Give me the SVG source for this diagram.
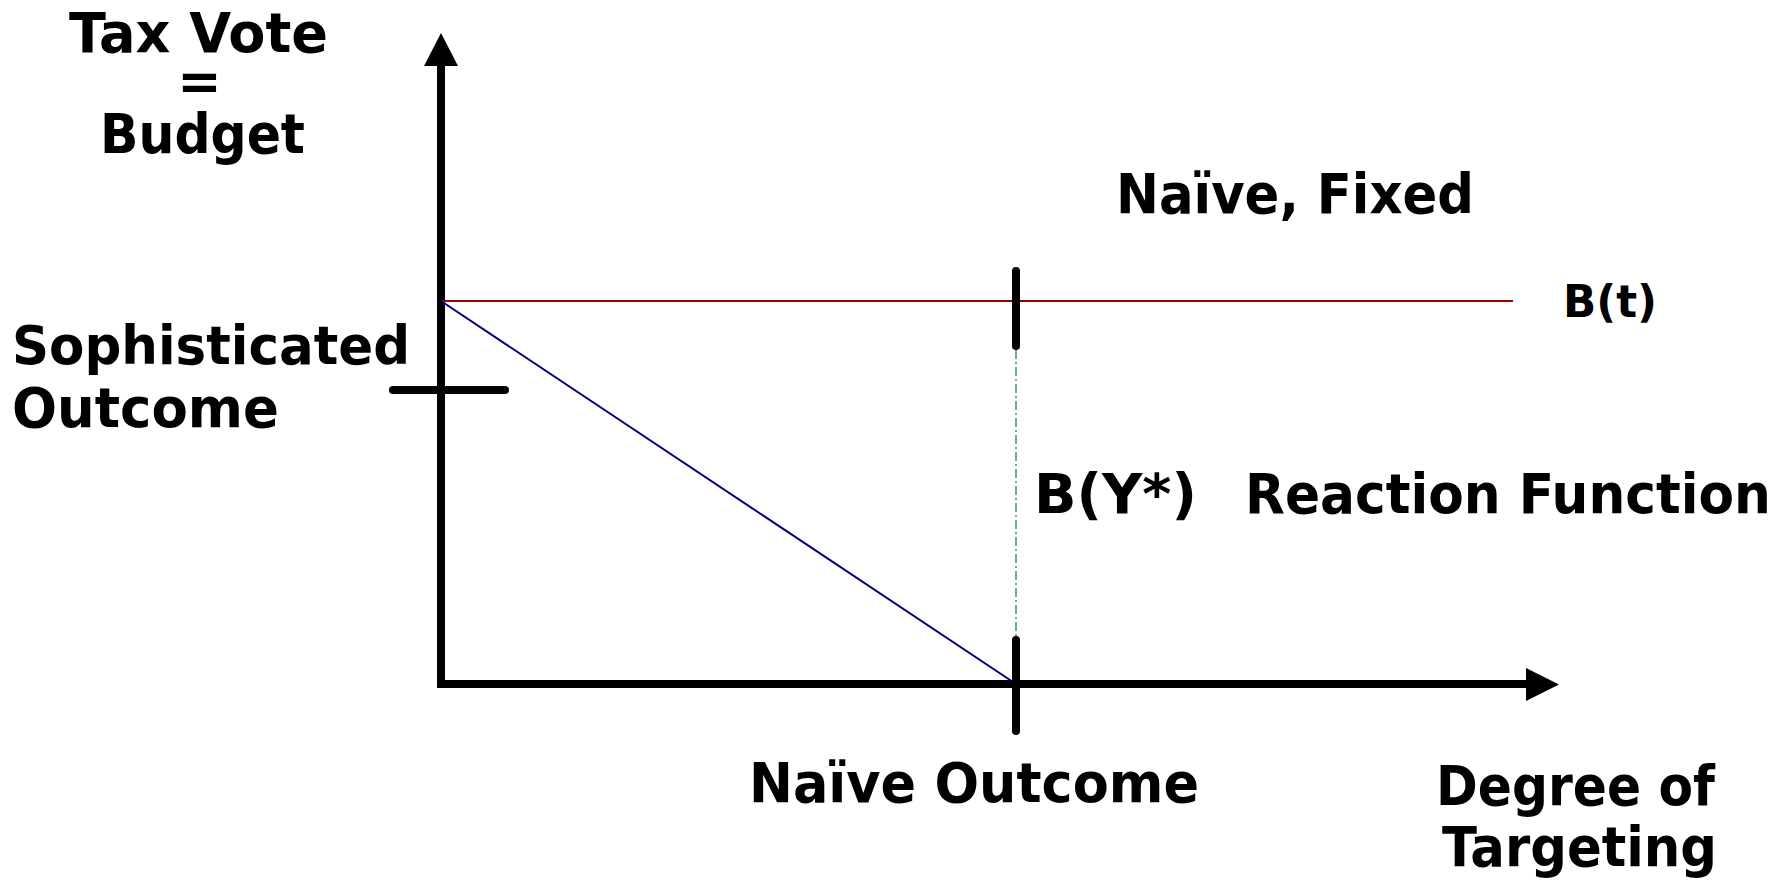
<svg xmlns="http://www.w3.org/2000/svg" width="1789" height="885" viewBox="0 0 1789 885">
<style>
text{font-family:"DejaVu Sans","Verdana",sans-serif;font-weight:bold;fill:#000}
.axis{stroke:#000;stroke-width:8;fill:none}
.tick{stroke:#000;stroke-width:8;stroke-linecap:round;fill:none}
</style>
<rect width="1789" height="885" fill="#fff"/>
<g id="connectors">
<polyline class="axis" points="441,66 441,684 1527,684" stroke-linejoin="miter"/>
<polygon points="424,66 458,66 441,33" fill="#000"/>
<polygon points="1526,668 1526,701 1559,684.5" fill="#000"/>
<line x1="441" y1="301" x2="1513" y2="301" stroke="#990000" stroke-width="2"/>
<line x1="441" y1="301" x2="1016" y2="684" stroke="#000080" stroke-width="2"/>
<line x1="1016" y1="350" x2="1016" y2="636" stroke="#339966" stroke-width="1.5" stroke-dasharray="9 3 2 3"/>
<line class="tick" x1="393" y1="390" x2="505" y2="390"/>
<line class="tick" x1="1016" y1="271" x2="1016" y2="346"/>
<line class="tick" x1="1016" y1="640" x2="1016" y2="731"/>
</g>
<g id="y-axis-label">
<text x="69" y="52" font-size="56" textLength="259" lengthAdjust="spacingAndGlyphs">Tax Vote</text>
<text x="199.5" y="100" font-size="53" text-anchor="middle">=</text>
<text x="100" y="153" font-size="55" textLength="205" lengthAdjust="spacingAndGlyphs">Budget</text>
</g>
<g id="sophisticated-outcome">
<text x="12" y="364" font-size="54" textLength="398" lengthAdjust="spacingAndGlyphs">Sophisticated</text>
<text x="12" y="427" font-size="55" textLength="267" lengthAdjust="spacingAndGlyphs">Outcome</text>
</g>
<g id="naive-fixed">
<text x="1116" y="213" font-size="56" textLength="358" lengthAdjust="spacingAndGlyphs">Naïve, Fixed</text>
</g>
<g id="bt-label">
<text x="1563" y="317" font-size="45" textLength="94" lengthAdjust="spacingAndGlyphs">B(t)</text>
</g>
<g id="reaction-function">
<text x="1034" y="513" font-size="56" textLength="163" lengthAdjust="spacingAndGlyphs">B(Y*)</text>
<text x="1245" y="513" font-size="56" textLength="526" lengthAdjust="spacingAndGlyphs">Reaction Function</text>
</g>
<g id="naive-outcome">
<text x="749" y="802" font-size="55" textLength="450" lengthAdjust="spacingAndGlyphs">Naïve Outcome</text>
</g>
<g id="x-axis-label">
<text x="1436" y="805" font-size="55" textLength="279" lengthAdjust="spacingAndGlyphs">Degree of</text>
<text x="1442" y="866" font-size="55" textLength="275" lengthAdjust="spacingAndGlyphs">Targeting</text>
</g>
</svg>
